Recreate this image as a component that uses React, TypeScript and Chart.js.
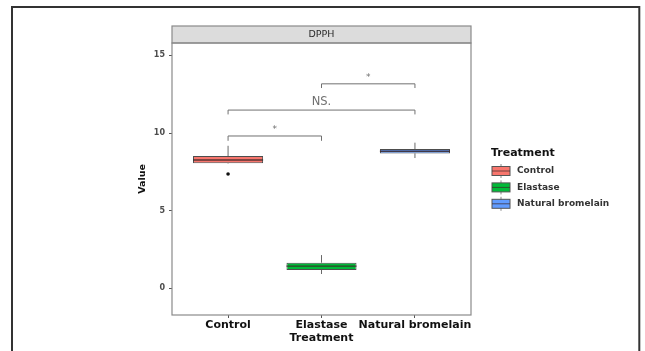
import React, { useEffect, useRef } from "react";
import { Chart, registerables } from "chart.js";

Chart.register(...registerables);

const categories = ["Control", "Elastase", "Natural bromelain"];
const q1 = [8.05, 1.18, 8.69];
const medians = [8.26, 1.43, 8.83];
const q3 = [8.52, 1.65, 8.97];
const whiskerLow = [8.02, 0.92, 8.39];
const whiskerHigh = [9.18, 2.14, 9.38];
const outlierCategory = [1];
const outlierValue = [7.36];
const boxColors = ["#F8766D", "#00BA38", "#619CFF"];
const bracketFrom = [1, 1, 2];
const bracketTo = [2, 3, 3];
const bracketY = [9.81, 11.48, 13.17];
const bracketTip = [9.5, 11.2, 12.9];
const bracketLabel = ["*", "NS.", "*"];
const yTicks = [0, 5, 10, 15];
const facetTitle = "DPPH";
const legendTitle = "Treatment";
const xTitle = "Treatment";
const yTitle = "Value";

const FONT = "'DejaVu Sans', sans-serif";

const decorPlugin = {
  id: "decor",
  beforeDatasetsDraw(chart: any) {
    const { ctx } = chart;
    const xs = chart.scales.x;
    const ys = chart.scales.y;
    ctx.save();
    ctx.strokeStyle = "#6a6a6a";
    ctx.lineWidth = 1;
    categories.forEach((_, i) => {
      const x = xs.getPixelForValue(i + 1);
      ctx.beginPath();
      ctx.moveTo(x, ys.getPixelForValue(whiskerHigh[i]));
      ctx.lineTo(x, ys.getPixelForValue(q3[i]));
      ctx.moveTo(x, ys.getPixelForValue(q1[i]));
      ctx.lineTo(x, ys.getPixelForValue(whiskerLow[i]));
      ctx.stroke();
    });
    ctx.restore();
  },
  afterDatasetsDraw(chart: any) {
    const { ctx } = chart;
    const xs = chart.scales.x;
    const ys = chart.scales.y;
    const meta = chart.getDatasetMeta(0);
    ctx.save();
    ctx.strokeStyle = "rgba(60,40,40,0.85)";
    ctx.lineWidth = 1.4;
    meta.data.forEach((bar: any, i: number) => {
      const w = bar.width;
      const y = ys.getPixelForValue(medians[i]);
      ctx.beginPath();
      ctx.moveTo(bar.x - w / 2, y);
      ctx.lineTo(bar.x + w / 2, y);
      ctx.stroke();
    });
    ctx.strokeStyle = "#707070";
    ctx.fillStyle = "#707070";
    ctx.lineWidth = 1;
    bracketY.forEach((v, i) => {
      const x1 = xs.getPixelForValue(bracketFrom[i]);
      const x2 = xs.getPixelForValue(bracketTo[i]);
      const y = ys.getPixelForValue(v);
      const yt = ys.getPixelForValue(bracketTip[i]);
      ctx.beginPath();
      ctx.moveTo(x1, yt);
      ctx.lineTo(x1, y);
      ctx.lineTo(x2, y);
      ctx.lineTo(x2, yt);
      ctx.stroke();
      const lab = bracketLabel[i];
      ctx.font = lab === "*" ? `9px ${FONT}` : `11.5px ${FONT}`;
      ctx.textAlign = "center";
      ctx.textBaseline = "bottom";
      ctx.fillText(lab, (x1 + x2) / 2, y - 2);
    });
    ctx.restore();
  },
  afterDraw(chart: any) {
    const { ctx, chartArea } = chart;
    const { left, right, top, bottom } = chartArea;
    ctx.save();
    ctx.fillStyle = "#dcdcdc";
    ctx.fillRect(left, top - 17, right - left, 17);
    ctx.strokeStyle = "#8a8a8a";
    ctx.lineWidth = 1.2;
    ctx.strokeRect(left, top - 17, right - left, 17);
    ctx.fillStyle = "#2a2a2a";
    ctx.font = `9.5px ${FONT}`;
    ctx.textAlign = "center";
    ctx.textBaseline = "middle";
    ctx.fillText(facetTitle, (left + right) / 2, top - 8.5);
    ctx.strokeRect(left, top, right - left, bottom - top);

    ctx.fillStyle = "#111";
    ctx.font = `bold 11px ${FONT}`;
    ctx.textAlign = "left";
    ctx.textBaseline = "middle";
    ctx.fillText(legendTitle, 491, 153);
    categories.forEach((c, i) => {
      const cy = 171 + i * 16.4;
      const kx = 492;
      const kw = 18;
      ctx.strokeStyle = "#8a8a8a";
      ctx.lineWidth = 1;
      ctx.beginPath();
      ctx.moveTo(kx + kw / 2, cy - 7);
      ctx.lineTo(kx + kw / 2, cy + 7);
      ctx.stroke();
      ctx.fillStyle = boxColors[i];
      ctx.fillRect(kx, cy - 4.5, kw, 9);
      ctx.strokeStyle = "#555";
      ctx.strokeRect(kx, cy - 4.5, kw, 9);
      ctx.strokeStyle = "rgba(60,40,40,0.7)";
      ctx.beginPath();
      ctx.moveTo(kx, cy);
      ctx.lineTo(kx + kw, cy);
      ctx.stroke();
      ctx.fillStyle = "#333";
      ctx.font = `bold 9px ${FONT}`;
      ctx.fillText(c, 517, cy);
    });

    ctx.strokeStyle = "#333";
    ctx.lineWidth = 2;
    ctx.strokeRect(12, 7, 627.3, 400);
    ctx.restore();
  },
};

export default function App() {
  const ref = useRef<HTMLCanvasElement>(null);
  useEffect(() => {
    if (!ref.current) return;
    const chart = new Chart(ref.current, {
      type: "bar",
      data: {
        datasets: [
          {
            type: "bar",
            data: categories.map((_, i) => ({ x: i + 1, y: [q1[i], q3[i]] })) as any,
            backgroundColor: boxColors,
            borderColor: "#4d4d4d",
            borderWidth: 1,
            borderSkipped: false,
            categoryPercentage: 0.75,
            barPercentage: 1,
          } as any,
          {
            type: "scatter",
            data: outlierCategory.map((c, i) => ({ x: c, y: outlierValue[i] })),
            pointRadius: 1.8,
            pointBackgroundColor: "#111",
            pointBorderWidth: 0,
          } as any,
        ],
      },
      plugins: [decorPlugin],
      options: {
        animation: false,
        responsive: false,
        events: [],
        layout: { padding: { left: 132, top: 43, right: 174, bottom: 0 } },
        plugins: { legend: { display: false }, tooltip: { enabled: false } },
        scales: {
          x: {
            type: "linear",
            min: 0.4,
            max: 3.6,
            offset: false,
            afterBuildTicks: (s: any) => {
              s.ticks = categories.map((_, i) => ({ value: i + 1 }));
            },
            afterFit: (s: any) => {
              s.height = 36;
            },
            border: { display: false },
            grid: { offset: false, drawOnChartArea: false, drawTicks: true, tickLength: 3, color: "#555" },
            ticks: {
              padding: 1,
              autoSkip: false,
              maxRotation: 0,
              color: "#111",
              font: { family: FONT, size: 11, weight: "bold" },
              callback: (v: any) => categories[Math.round(v) - 1] ?? "",
            },
            title: {
              display: true,
              text: xTitle,
              color: "#111",
              font: { family: FONT, size: 11, weight: "bold" },
              padding: { top: 0, bottom: 6 },
            },
          },
          y: {
            type: "linear",
            min: -1.72,
            max: 15.8,
            afterBuildTicks: (s: any) => {
              s.ticks = yTicks.map((v) => ({ value: v }));
            },
            afterFit: (s: any) => {
              s.width = 40;
            },
            border: { display: false },
            grid: { drawOnChartArea: false, drawTicks: true, tickLength: 3, color: "#555" },
            ticks: {
              padding: 4,
              color: "#4d4d4d",
              font: { family: FONT, size: 8, weight: "bold" },
            },
            title: {
              display: true,
              text: yTitle,
              color: "#111",
              font: { family: FONT, size: 9.5, weight: "bold" },
              padding: { top: 5, bottom: 0 },
            },
          },
        },
      } as any,
    });
    return () => chart.destroy();
  }, []);
  return (
    <div style={{ position: "absolute", left: 0, top: 0, width: 645, height: 351, background: "#fff" }}>
      <canvas ref={ref} width={645} height={351} style={{ width: 645, height: 351, display: "block" }} />
    </div>
  );
}
